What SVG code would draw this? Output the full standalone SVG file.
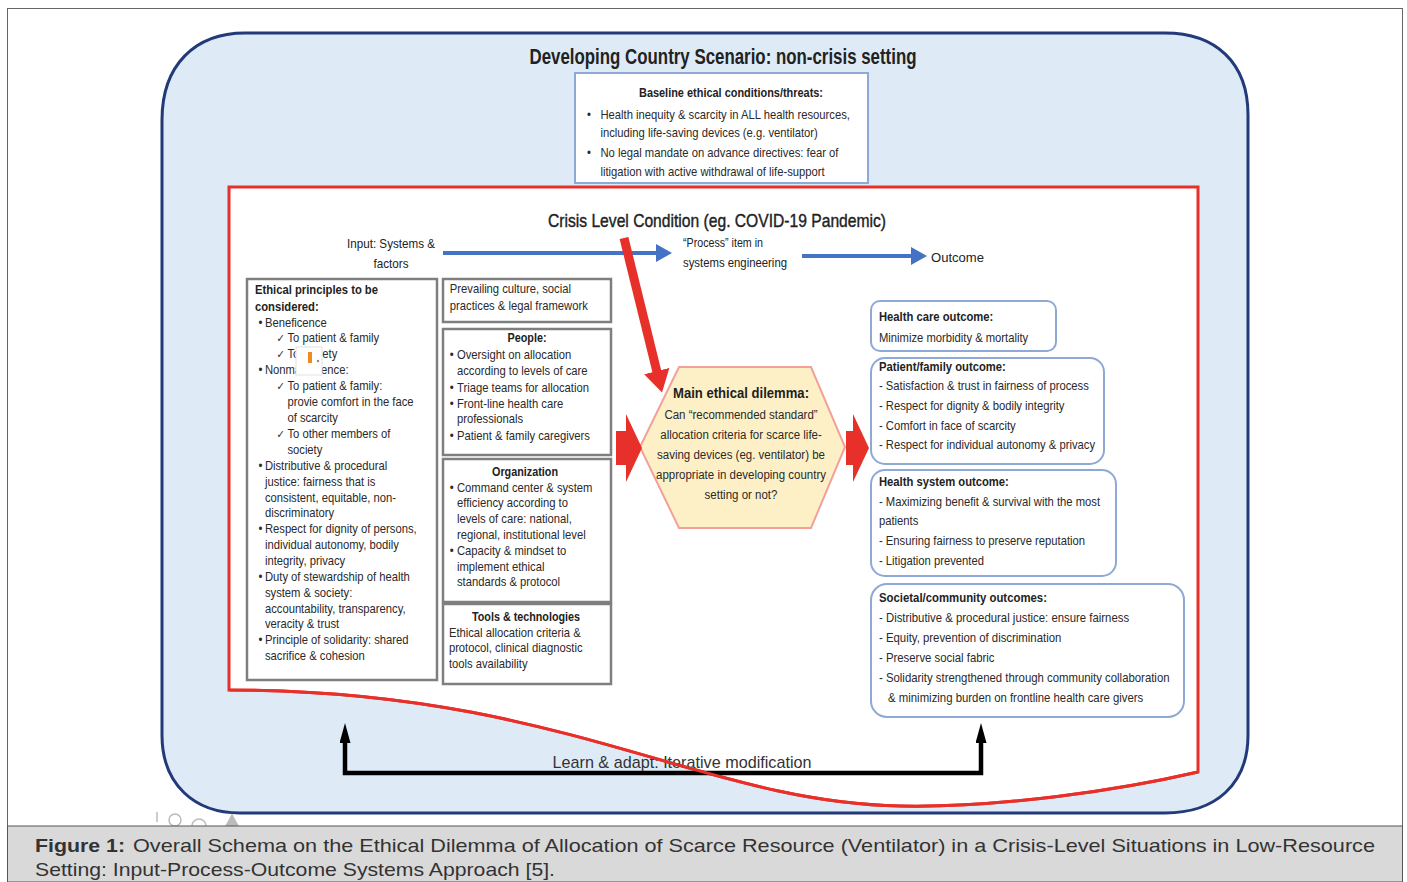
<svg xmlns="http://www.w3.org/2000/svg" width="1407" height="882" viewBox="0 0 1407 882">
<defs>
<style>
.b{font-family:"Liberation Sans",Arial,sans-serif;font-size:12.5px;fill:#2a2a2a}
.bb{font-family:"Liberation Sans",Arial,sans-serif;font-size:12.5px;font-weight:bold;fill:#222}
.h{font-family:"Liberation Sans",Arial,sans-serif;font-size:12.5px;fill:#2a2a2a}
.ck{font-family:"DejaVu Sans",sans-serif;font-size:11px;fill:#2a2a2a}
.gbox{fill:#fff;stroke:#7f7f7f;stroke-width:2.5}
.obox{fill:#fff;stroke:#8ea9d6;stroke-width:2}
.lbl{font-family:"Liberation Sans",Arial,sans-serif;font-size:13px;fill:#222}
.cap{font-family:"Liberation Sans",Arial,sans-serif;font-size:19px;fill:#333}
</style>
<marker id="blueHead" viewBox="0 0 16 18" refX="1" refY="9" markerWidth="16" markerHeight="18" orient="auto" markerUnits="userSpaceOnUse"><path d="M0,0 L16,9 L0,18 z" fill="#4472c4"/></marker>
<marker id="blackHead" viewBox="0 0 20 11" refX="1" refY="5.5" markerWidth="20" markerHeight="11" orient="auto-start-reverse" markerUnits="userSpaceOnUse"><path d="M0,0 L20,5.5 L0,11 z" fill="#000"/></marker>
<marker id="redHead" viewBox="0 0 22 26" refX="1" refY="13" markerWidth="22" markerHeight="26" orient="auto" markerUnits="userSpaceOnUse"><path d="M0,0 L22,13 L0,26 z" fill="#e8302a"/></marker>
</defs>

<!-- page frame -->
<rect x="0" y="0" width="1407" height="882" fill="#fff"/>
<rect x="7.5" y="8.5" width="1395" height="873" fill="#fff" stroke="#666" stroke-width="1"/>

<!-- outer scenario -->
<g id="scenario">
<path d="M245,33 H1165 C1215,33 1248,62 1248,115 V735 C1248,785 1215,813 1165,813 H240 C195,813 162,785 162,735 V120 C162,65 195,33 245,33 Z" fill="#deebf7" stroke="#22397a" stroke-width="3"/>
<text x="723" y="64" font-family="Liberation Sans,Arial,sans-serif" font-size="22" font-weight="bold" fill="#222" text-anchor="middle" textLength="387" lengthAdjust="spacingAndGlyphs">Developing Country Scenario: non-crisis setting</text>
</g>

<!-- crisis region -->
<g id="crisis">
<path d="M229,187 H1198 V772 C1120,790 1000,808 900,806 C700,802 560,690 229,690 Z" fill="#fff" stroke="#e8302a" stroke-width="3"/>
<text x="717" y="227" font-family="Liberation Sans,Arial,sans-serif" font-size="19" fill="#222" stroke="#222" stroke-width="0.4" text-anchor="middle" textLength="338" lengthAdjust="spacingAndGlyphs">Crisis Level Condition (eg. COVID-19 Pandemic)</text>
</g>

<!-- baseline box -->
<g id="baseline">
<rect x="575" y="73" width="293" height="110" fill="#fff" stroke="#8ea9d6" stroke-width="2"/>
<text x="731" y="97" class="bb" font-size="12" text-anchor="middle" textLength="184" lengthAdjust="spacingAndGlyphs">Baseline ethical conditions/threats:</text>
<g transform="matrix(0.9,0,0,1,58.7,0)">
<text x="587" y="119" class="b">•</text><text x="602" y="119" class="b">Health inequity &amp; scarcity in ALL health resources,</text>
<text x="602" y="137" class="b">including life-saving devices (e.g. ventilator)</text>
<text x="587" y="157" class="b">•</text><text x="602" y="157" class="b">No legal mandate on advance directives: fear of</text>
<text x="602" y="176" class="b">litigation with active withdrawal of life-support</text>
</g>
</g>

<!-- input labels -->
<g id="labels">
<text x="391" y="248" class="lbl" text-anchor="middle" textLength="88" lengthAdjust="spacingAndGlyphs">Input: Systems &amp;</text>
<text x="391" y="268" class="lbl" text-anchor="middle" textLength="35" lengthAdjust="spacingAndGlyphs">factors</text>
<text x="683" y="247" class="lbl" textLength="80" lengthAdjust="spacingAndGlyphs">“Process” item in</text>
<text x="683" y="267" class="lbl" textLength="104" lengthAdjust="spacingAndGlyphs">systems engineering</text>
<text x="931" y="262" class="lbl" textLength="53" lengthAdjust="spacingAndGlyphs">Outcome</text>
</g>

<!-- ethical principles -->
<g id="ethical">
<rect x="247" y="279" width="190" height="401" class="gbox"/>
<g transform="matrix(0.9,0,0,1,25.5,0)">
<text x="255" y="294" class="bb">Ethical principles to be</text>
<text x="255" y="311" class="bb">considered:</text>
<text x="259" y="327" class="b">•</text><text x="266" y="327" class="b">Beneficence</text>
<text x="279" y="342" class="ck">✓</text><text x="291" y="342" class="b">To patient &amp; family</text>
<text x="279" y="358" class="ck">✓</text><text x="291" y="358" class="b">To society</text>
<text x="259" y="374" class="b">•</text><text x="266" y="374" class="b">Nonmaleficence:</text>
<text x="279" y="390" class="ck">✓</text><text x="291" y="390" class="b">To patient &amp; family:</text>
<text x="291" y="406" class="b">provie comfort in the face</text>
<text x="291" y="422" class="b">of scarcity</text>
<text x="279" y="438" class="ck">✓</text><text x="291" y="438" class="b">To other members of</text>
<text x="291" y="454" class="b">society</text>
<text x="259" y="470" class="b">•</text><text x="266" y="470" class="b">Distributive &amp; procedural</text>
<text x="266" y="486" class="b">justice: fairness that is</text>
<text x="266" y="502" class="b">consistent, equitable, non-</text>
<text x="266" y="517" class="b">discriminatory</text>
<text x="259" y="533" class="b">•</text><text x="266" y="533" class="b">Respect for dignity of persons,</text>
<text x="266" y="549" class="b">individual autonomy, bodily</text>
<text x="266" y="565" class="b">integrity, privacy</text>
<text x="259" y="581" class="b">•</text><text x="266" y="581" class="b">Duty of stewardship of health</text>
<text x="266" y="597" class="b">system &amp; society:</text>
<text x="266" y="613" class="b">accountability, transparency,</text>
<text x="266" y="628" class="b">veracity &amp; trust</text>
<text x="259" y="644" class="b">•</text><text x="266" y="644" class="b">Principle of solidarity: shared</text>
<text x="266" y="660" class="b">sacrifice &amp; cohesion</text>
</g>
<rect x="296" y="347" width="26" height="28" fill="#fff" stroke="#e2e2e2" stroke-width="1"/>
<rect x="308" y="352" width="4" height="11" fill="#f08a24"/>
<circle cx="318" cy="361" r="1.2" fill="#888"/>
</g>

<!-- middle column -->
<g id="culture">
<rect x="443" y="279" width="168" height="43" class="gbox"/>
<g transform="matrix(0.9,0,0,1,44.8,0)">
<text x="450" y="293" class="b">Prevailing culture, social</text>
<text x="450" y="310" class="b">practices &amp; legal framework</text>
</g>
</g>
<g id="people">
<rect x="443" y="329" width="168" height="126" class="gbox"/>
<text x="527" y="342" class="bb" text-anchor="middle" textLength="39" lengthAdjust="spacingAndGlyphs">People:</text>
<g transform="matrix(0.9,0,0,1,44.8,0)">
<text x="450" y="359" class="b">•</text><text x="458" y="359" class="b">Oversight on allocation</text>
<text x="458" y="375" class="b">according to levels of care</text>
<text x="450" y="392" class="b">•</text><text x="458" y="392" class="b">Triage teams for allocation</text>
<text x="450" y="408" class="b">•</text><text x="458" y="408" class="b">Front-line health care</text>
<text x="458" y="423" class="b">professionals</text>
<text x="450" y="440" class="b">•</text><text x="458" y="440" class="b">Patient &amp; family caregivers</text>
</g>
</g>
<g id="organization">
<rect x="443" y="459" width="168" height="143" class="gbox"/>
<text x="525" y="476" class="bb" text-anchor="middle" textLength="66" lengthAdjust="spacingAndGlyphs">Organization</text>
<g transform="matrix(0.9,0,0,1,44.8,0)">
<text x="450" y="492" class="b">•</text><text x="458" y="492" class="b">Command center &amp; system</text>
<text x="458" y="507" class="b">efficiency according to</text>
<text x="458" y="523" class="b">levels of care: national,</text>
<text x="458" y="539" class="b">regional, institutional level</text>
<text x="450" y="555" class="b">•</text><text x="458" y="555" class="b">Capacity &amp; mindset to</text>
<text x="458" y="571" class="b">implement ethical</text>
<text x="458" y="586" class="b">standards &amp; protocol</text>
</g>
</g>
<g id="tools">
<rect x="443" y="604" width="168" height="80" class="gbox"/>
<text x="526" y="621" class="bb" text-anchor="middle" textLength="108" lengthAdjust="spacingAndGlyphs">Tools &amp; technologies</text>
<g transform="matrix(0.9,0,0,1,44.8,0)">
<text x="449" y="637" class="b">Ethical allocation criteria &amp;</text>
<text x="449" y="652" class="b">protocol, clinical diagnostic</text>
<text x="449" y="668" class="b">tools availability</text>
</g>
</g>

<!-- dilemma hexagon -->
<g id="dilemma">
<polygon points="640,447 679,367 811,367 845,447 811,528 679,528" fill="#fdf0c6" stroke="#f3a09a" stroke-width="2"/>
<text x="741" y="398" font-family="Liberation Sans,Arial,sans-serif" font-size="15" font-weight="bold" fill="#1e1e1e" text-anchor="middle" textLength="136" lengthAdjust="spacingAndGlyphs">Main ethical dilemma:</text>
<g transform="matrix(0.92,0,0,1,59.3,0)">
<text x="741" y="419" class="h" text-anchor="middle">Can “recommended standard”</text>
<text x="741" y="439" class="h" text-anchor="middle">allocation criteria for scarce life-</text>
<text x="741" y="459" class="h" text-anchor="middle">saving devices (eg. ventilator) be</text>
<text x="741" y="479" class="h" text-anchor="middle">appropriate in developing country</text>
<text x="741" y="499" class="h" text-anchor="middle">setting or not?</text>
</g>
</g>

<!-- outcomes -->
<g id="outcome-healthcare">
<rect x="871" y="301" width="185" height="50" rx="9" class="obox"/>
<g transform="matrix(0.9,0,0,1,87.9,0)">
<text x="879" y="321" class="bb">Health care outcome:</text>
<text x="879" y="342" class="b">Minimize morbidity &amp; mortality</text>
</g>
</g>
<g id="outcome-patient">
<rect x="871" y="358" width="233" height="106" rx="14" class="obox"/>
<g transform="matrix(0.9,0,0,1,87.9,0)">
<text x="879" y="371" class="bb">Patient/family outcome:</text>
<text x="879" y="390" class="b">- Satisfaction &amp; trust in fairness of process</text>
<text x="879" y="410" class="b">- Respect for dignity  &amp; bodily integrity</text>
<text x="879" y="430" class="b">- Comfort in face of scarcity</text>
<text x="879" y="449" class="b">- Respect for individual autonomy &amp; privacy</text>
</g>
</g>
<g id="outcome-system">
<rect x="871" y="470" width="245" height="106" rx="14" class="obox"/>
<g transform="matrix(0.9,0,0,1,87.9,0)">
<text x="879" y="486" class="bb">Health system outcome:</text>
<text x="879" y="506" class="b">- Maximizing benefit &amp; survival with the most</text>
<text x="879" y="525" class="b">patients</text>
<text x="879" y="545" class="b">- Ensuring fairness to preserve reputation</text>
<text x="879" y="565" class="b">- Litigation prevented</text>
</g>
</g>
<g id="outcome-societal">
<rect x="871" y="584" width="313" height="133" rx="16" class="obox"/>
<g transform="matrix(0.91,0,0,1,79.1,0)">
<text x="879" y="602" class="bb">Societal/community outcomes:</text>
<text x="879" y="622" class="b">- Distributive &amp; procedural justice: ensure fairness</text>
<text x="879" y="642" class="b">- Equity, prevention of discrimination</text>
<text x="879" y="662" class="b">- Preserve social fabric</text>
<text x="879" y="682" class="b">- Solidarity  strengthened through community collaboration</text>
<text x="889" y="702" class="b">&amp; minimizing burden on frontline health care givers</text>
</g>
</g>

<!-- connectors -->
<g id="connectors">
<line x1="443" y1="253" x2="657" y2="253" stroke="#4472c4" stroke-width="4" marker-end="url(#blueHead)"/>
<line x1="802" y1="256" x2="912" y2="256" stroke="#4472c4" stroke-width="4" marker-end="url(#blueHead)"/>
<line x1="624" y1="238" x2="657" y2="372" stroke="#e8302a" stroke-width="9" marker-end="url(#redHead)"/>
<polygon points="616,431 626,431 626,414 642,448 626,482 626,465 616,465" fill="#e8302a"/>
<polygon points="846,431 853,431 853,414 869,448 853,482 853,465 846,465" fill="#e8302a"/>
<path d="M345,742 V773 H981 V742" fill="none" stroke="#000" stroke-width="4.5" marker-start="url(#blackHead)" marker-end="url(#blackHead)"/>
<text x="682" y="768" font-family="Liberation Sans,Arial,sans-serif" font-size="17" fill="#333" text-anchor="middle" textLength="259" lengthAdjust="spacingAndGlyphs">Learn &amp; adapt: Iterative modification</text>
<path d="M229,690 C560,690 700,802 900,806 C1000,808 1120,790 1198,772" fill="none" stroke="#e8302a" stroke-width="3"/>
</g>

<!-- small artefact marks -->
<g id="marks" fill="none" stroke="#bbb" stroke-width="1.5">
<line x1="157" y1="812" x2="157" y2="822"/>
<circle cx="175" cy="820" r="6"/>
<path d="M192,826 A7,7 0 0 1 206,826"/>
<path d="M226,826 L232,815 L238,826 Z" fill="#bbb"/>
</g>

<!-- caption -->
<g id="caption">
<rect x="7.5" y="826" width="1395" height="56" fill="#d9d9d9" stroke="#555" stroke-width="1"/>
<text x="35" y="852" class="cap" font-weight="bold" fill="#2e5aa8" textLength="90" lengthAdjust="spacingAndGlyphs">Figure 1:</text>
<text x="133" y="852" class="cap" textLength="1242" lengthAdjust="spacingAndGlyphs">Overall Schema on the Ethical Dilemma of Allocation of Scarce Resource (Ventilator) in a Crisis-Level Situations in Low-Resource</text>
<text x="35" y="876" class="cap" textLength="520" lengthAdjust="spacingAndGlyphs">Setting: Input-Process-Outcome Systems Approach [5].</text>
</g>
</svg>
